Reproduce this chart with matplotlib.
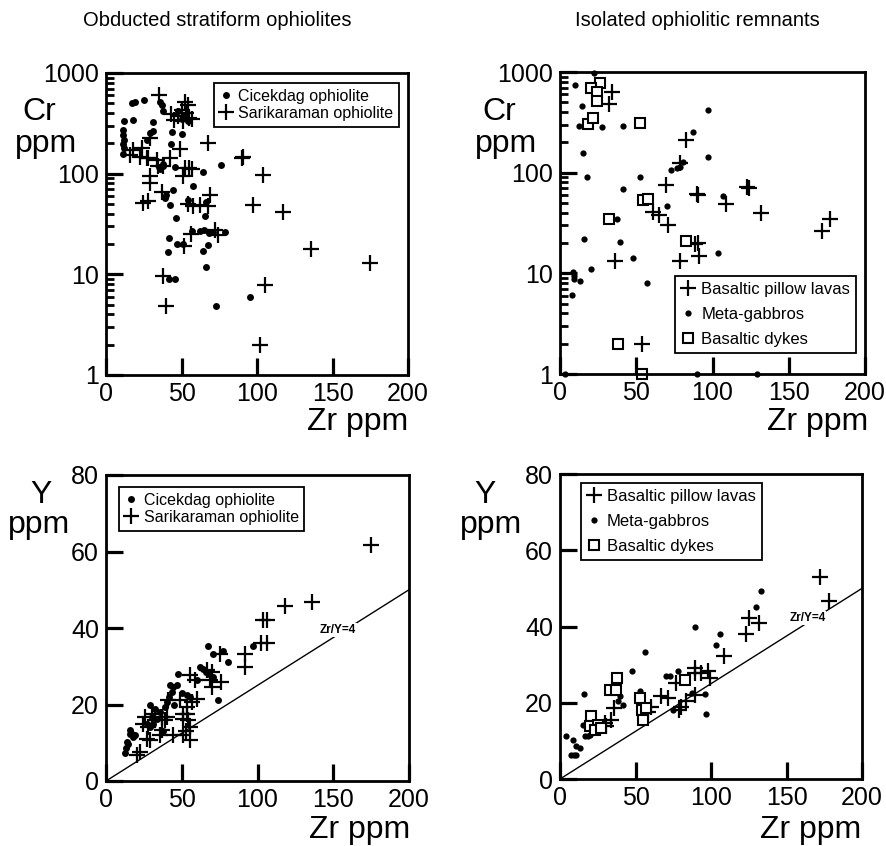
import matplotlib
matplotlib.use("Agg")
import matplotlib.pyplot as plt
from matplotlib.ticker import FixedLocator, NullFormatter

plt.rcParams['font.family'] = ['Liberation Sans', 'DejaVu Sans']

# ---- Data ----
# Panel A: Cr vs Zr, obducted stratiform ophiolites
cic_cr_zr = [17, 19, 25, 36, 37, 38, 12, 18, 31, 11, 11.5, 12, 11, 12, 11, 29, 27, 31, 42.8, 43.5,
             50, 37.7, 35, 46, 76, 64, 57.8, 44.5, 40, 39, 42.4, 54, 66, 46.4, 65.6, 42, 41.3, 46.8,
             51, 57, 62, 65, 68, 71, 79, 64.4, 67.8, 66.2, 42, 45.7, 72.8, 95.4, 50, 52, 54, 48, 36, 38]
cic_cr = [500, 520, 540, 520, 480, 420, 332, 343, 325, 270, 240, 215, 195, 178, 156, 252, 218, 265, 195, 257,
          245, 119, 116, 117, 123, 103, 76, 69, 62, 57, 49, 55, 52, 36, 38, 23, 16.7, 20,
          20, 27, 27, 27.5, 26, 26.5, 26.5, 17, 19.6, 11.9, 8.9, 8.9, 4.9, 5.9, 350, 380, 330, 420, 110, 125]

sar_cr_zr = [35, 52, 54, 50, 53, 48, 55, 45, 51, 57, 43, 67.7, 90, 91, 104, 97.5, 117, 136, 175, 105,
             102, 37.5, 39.7, 51.6, 56, 72, 74.4, 69, 67.7, 62, 57.3, 54, 24.7, 27.8, 29, 29, 36.9,
             50.8, 49, 42.4, 34.7, 37.7, 27, 28, 22.5, 23.6, 18, 16, 29, 52, 55, 56.7, 33.5]
sar_cr = [605, 520, 480, 430, 400, 370, 360, 340, 330, 350, 390, 200, 143, 148, 98, 49, 42, 17.8, 13, 7.9,
          2, 9.7, 4.9, 19.2, 25, 27.7, 24.5, 62, 48, 49, 48, 50, 51, 54, 94, 80, 66,
          94, 174, 143, 119, 119, 142, 143, 146, 180, 173, 155, 225, 114, 114, 110, 137]

# Panel B: Cr vs Zr, isolated ophiolitic remnants
lava_cr_zr = [34, 32, 82.6, 79, 69.5, 89.6, 90.5, 124, 122.5, 108.9, 132, 177, 171.6, 61, 65, 71,
              90.7, 88.5, 91, 78.7, 36, 54]
lava_cr = [640, 480, 213, 125, 76, 62, 60, 71, 72, 49, 40, 35, 26.6, 41, 38, 30,
           20, 19.5, 14.7, 13.2, 13.2, 2.0]

gab_cr_zr = [22, 9.8, 14.4, 12.6, 27.5, 41.2, 87.4, 97.3, 97.3, 73, 76.5, 79, 80.9, 52.5, 41, 17.5,
             14.9, 106.7, 70, 37.2, 15.7, 39.3, 48, 103.4, 20.3, 8.7, 9.5, 8.9, 13, 7.6, 57.3,
             89.6, 129, 3.3]
gab_cr = [980, 740, 455, 288, 282, 290, 256, 417, 144, 107, 110, 115, 129, 91, 69, 90,
          158, 59, 47, 35, 22, 20.6, 14.1, 16.1, 11, 10.3, 9.5, 8.7, 8.4, 6.1, 8.1,
          1.0, 1.0, 1.0]

dyke_cr_zr = [26, 20.3, 24, 24, 18.4, 21.6, 52.5, 54.6, 57.9, 32, 82.6, 38, 54]
dyke_cr = [780, 695, 630, 515, 305, 350, 310, 54, 55, 35, 21, 2.0, 1.0]

# Panel C: Y vs Zr, obducted stratiform ophiolites
cic_y_zr = [13.2, 12.5, 13.6, 15.8, 18, 14.7, 17, 19.1, 15.8, 29, 32.3, 35.6, 30.1, 26.8, 29, 31.2,
            33.4, 37.4, 38.9, 40, 41.8, 43.3, 42.2, 46.6, 47.3, 49.9, 53.2, 55.4, 59.8, 62, 64, 66,
            68, 70.8, 67.5, 70.8, 77, 80.7, 74, 96.7, 44.4, 45]
cic_y = [8.5, 7.2, 10.2, 12.4, 11.5, 9.8, 12.4, 12, 13.3, 19.8, 18.9, 18.1, 16.7, 15, 14.1, 15,
         16.3, 13.1, 19.4, 20.7, 22, 23.3, 25, 25, 28.1, 22.9, 22.4, 22, 26.3, 29.8, 29.2, 28.6,
         28, 27.2, 35.2, 33.3, 34, 31, 21.1, 35.2, 24.6, 20]

sar_y_zr = [174.7, 136, 118, 103.7, 106, 102.6, 106, 91.7, 91.7, 75, 75.8, 70, 66.4, 70, 68.6, 55.4,
            58.7, 59.8, 56.5, 48.8, 53.2, 53.2, 54.3, 55.4, 55.4, 51, 44.4, 51, 51, 25.7, 32.3,
            36.7, 38.9, 24.6, 30.1, 40, 41, 29, 35.6, 22.4, 20.2, 26.8, 28, 36.7, 53]
sar_y = [61.7, 46.8, 45.8, 42, 42, 36, 36, 33.3, 29.8, 33.3, 25.9, 24.6, 29, 28.5, 26.3, 27.7,
         26.4, 21.5, 20.7, 21.1, 19.4, 17.6, 15.9, 14.1, 10.6, 12, 11.9, 17.6, 16.3, 16.7, 15.9,
         16.7, 15.9, 15, 17.6, 16.7, 21.1, 10.7, 12, 7.6, 6.7, 11, 14.1, 13.3, 13]

# Panel D: Y vs Zr, isolated ophiolitic remnants
lava_y_zr = [172.4, 178.4, 125, 132, 123.2, 108.9, 89.2, 89.2, 93.6, 98, 99.1, 89.2, 83.7, 80.4,
             76.8, 67.1, 71.5, 60.5, 58.3, 35.8, 34, 29.6, 30.5, 79]
lava_y = [52.9, 46.8, 42.2, 40.9, 38.1, 32.2, 29.1, 27.8, 27.8, 28.2, 26.5, 22.1, 20.4, 19,
          25.2, 21.7, 21.2, 19, 17.7, 18.6, 15.6, 14.7, 13.8, 18.2]

gab_y_zr = [133, 129.8, 106.2, 103.3, 89.4, 56.3, 47.7, 70.5, 72.6, 78.1, 87.4, 95.8, 97, 74.8,
            52.8, 39.5, 41.7, 38.4, 15.9, 15.2, 16.4, 18.5, 19.7, 4.2, 8.6, 10.9, 13, 7.5, 10.9,
            9, 27.8]
gab_y = [49.2, 45, 38.1, 35.2, 39.9, 33.3, 28.3, 27.1, 27.1, 28.2, 22.6, 22.4, 17.1, 18.2,
         23, 21.7, 19.5, 20.4, 22.4, 14.2, 11.2, 11.2, 11.6, 11.2, 10.3, 8.6, 8.1, 6.4, 6.4,
         6.2, 14.2]

dyke_y_zr = [38, 32.9, 37.3, 20.8, 19.7, 25.2, 23, 27.4, 52.8, 54.3, 55, 57.2, 82.6]
dyke_y = [26.5, 23.4, 23.4, 16.4, 13.8, 14.2, 12.9, 13.4, 21.2, 18.2, 15.6, 18.6, 26]

# Zr/Y = 4 reference line
ratio_zr = [0, 200]
ratio_y = [0, 50]

# log axis tick positions
cr_major = [1, 10, 100, 1000]
cr_minor = [m * d for d in (1, 10, 100) for m in range(2, 10)]

W, H = 886, 846


def fx(x):
    return x / W


def fy(y):
    return 1 - y / H


def box(x0, y0, x1, y1):
    return [fx(x0), fy(y1), (x1 - x0) / W, (y1 - y0) / H]


fig = plt.figure(figsize=(W / 100, H / 100), dpi=100)

ax1 = fig.add_axes(box(106, 73, 408, 375))
ax2 = fig.add_axes(box(560, 72, 865, 374))
ax3 = fig.add_axes(box(106, 475, 409, 781))
ax4 = fig.add_axes(box(560, 474, 862, 779))

cross = dict(linestyle='none', marker='+', color='black', markersize=11, markeredgewidth=1.6, clip_on=False)
dot = dict(linestyle='none', marker='o', color='black', markersize=5, markeredgewidth=0, clip_on=False)
square = dict(linestyle='none', marker='s', markerfacecolor='white', markeredgecolor='black',
              markersize=7, markeredgewidth=1.5, clip_on=False)

# Panel A
h1, = ax1.plot(cic_cr_zr, cic_cr, label='Cicekdag ophiolite', **dot)
h2, = ax1.plot(sar_cr_zr, sar_cr, label='Sarikaraman ophiolite', **cross)

# Panel B
hb1, = ax2.plot(lava_cr_zr, lava_cr, label='Basaltic pillow lavas', **cross)
hb2, = ax2.plot(gab_cr_zr, gab_cr, label='Meta-gabbros', **dict(dot, markersize=4.5))
hb3, = ax2.plot(dyke_cr_zr, dyke_cr, label='Basaltic dykes', **square)

# Panel C
hc1, = ax3.plot(cic_y_zr, cic_y, label='Cicekdag ophiolite', **dot)
hc2, = ax3.plot(sar_y_zr, sar_y, label='Sarikaraman ophiolite', **cross)

# Panel D
hd1, = ax4.plot(lava_y_zr, lava_y, label='Basaltic pillow lavas', **cross)
hd2, = ax4.plot(gab_y_zr, gab_y, label='Meta-gabbros', **dict(dot, markersize=4.5))
hd3, = ax4.plot(dyke_y_zr, dyke_y, label='Basaltic dykes', **square)

for ax, lx in [(ax3, 153), (ax4, 164)]:
    ax.plot(ratio_zr, ratio_y, color='black', linewidth=1.0, zorder=1)
    ax.text(lx, lx / 4 + 1.2, 'Zr/Y=4', fontsize=8.5, fontweight='bold', ha='center', va='center',
            bbox=dict(facecolor='white', edgecolor='none', pad=0.5), zorder=2)

for ax in (ax1, ax2):
    ax.set_yscale('log')
    ax.set_ylim(1, 1000)
    ax.yaxis.set_major_locator(FixedLocator(cr_major))
    ax.yaxis.set_minor_locator(FixedLocator(cr_minor))
    ax.set_yticklabels(['1', '10', '100', '1000'])
    ax.yaxis.set_minor_formatter(NullFormatter())

for ax in (ax3, ax4):
    ax.set_ylim(0, 80)
    ax.set_yticks([0, 20, 40, 60, 80])

for ax in (ax1, ax2, ax3, ax4):
    ax.set_xlim(0, 200)
    ax.set_xticks([0, 50, 100, 150, 200])
    ax.tick_params(which='major', direction='in', length=12, width=2.3, colors='black',
                   labelsize=18, top=False, right=False, pad=5)
    ax.tick_params(which='minor', direction='in', length=6, width=2.0, colors='black',
                   top=False, right=False)
    for s in ax.spines.values():
        s.set_linewidth(2.0)


def legend(ax, handles, loc, x, y, spacing, size):
    leg = ax.legend(handles=handles, loc=loc, bbox_to_anchor=(fx(x), fy(y)),
                    bbox_transform=fig.transFigure, borderaxespad=0, fontsize=size,
                    fancybox=False, framealpha=1, edgecolor='black', handlelength=0.8,
                    handletextpad=0.4, labelspacing=spacing, borderpad=0.35)
    leg.get_frame().set_linewidth(1.3)
    return leg


legend(ax1, [h1, h2], 'upper right', 399, 83, 0.15, 11.5)
legend(ax2, [hb1, hb2, hb3], 'lower right', 856, 353, 0.6, 12)
legend(ax3, [hc1, hc2], 'upper left', 119, 487, 0.15, 11.5)
legend(ax4, [hd1, hd2, hd3], 'upper left', 581, 483, 0.6, 12)

# Axis labels and titles placed as in the original figure
lab = dict(fontsize=23, ha='center', va='baseline')
fig.text(fx(39), fy(120), 'Cr', **lab)
fig.text(fx(46), fy(152), 'ppm', **lab)
fig.text(fx(499), fy(120), 'Cr', **lab)
fig.text(fx(506), fy(152), 'ppm', **lab)
fig.text(fx(41), fy(503), 'Y', **lab)
fig.text(fx(39), fy(533), 'ppm', **lab)
fig.text(fx(485), fy(503), 'Y', **lab)
fig.text(fx(491), fy(533), 'ppm', **lab)

zr = dict(fontsize=23, ha='right', va='baseline')
fig.text(fx(408), fy(430), 'Zr ppm', **zr)
fig.text(fx(868), fy(430), 'Zr ppm', **zr)
fig.text(fx(410), fy(838), 'Zr ppm', **zr)
fig.text(fx(861), fy(838), 'Zr ppm', **zr)

fig.text(fx(217), fy(20), 'Obducted stratiform ophiolites', fontsize=14.5, ha='center', va='center')
fig.text(fx(697), fy(20), 'Isolated ophiolitic remnants', fontsize=14.5, ha='center', va='center')

fig.savefig('out.png', dpi=100)
